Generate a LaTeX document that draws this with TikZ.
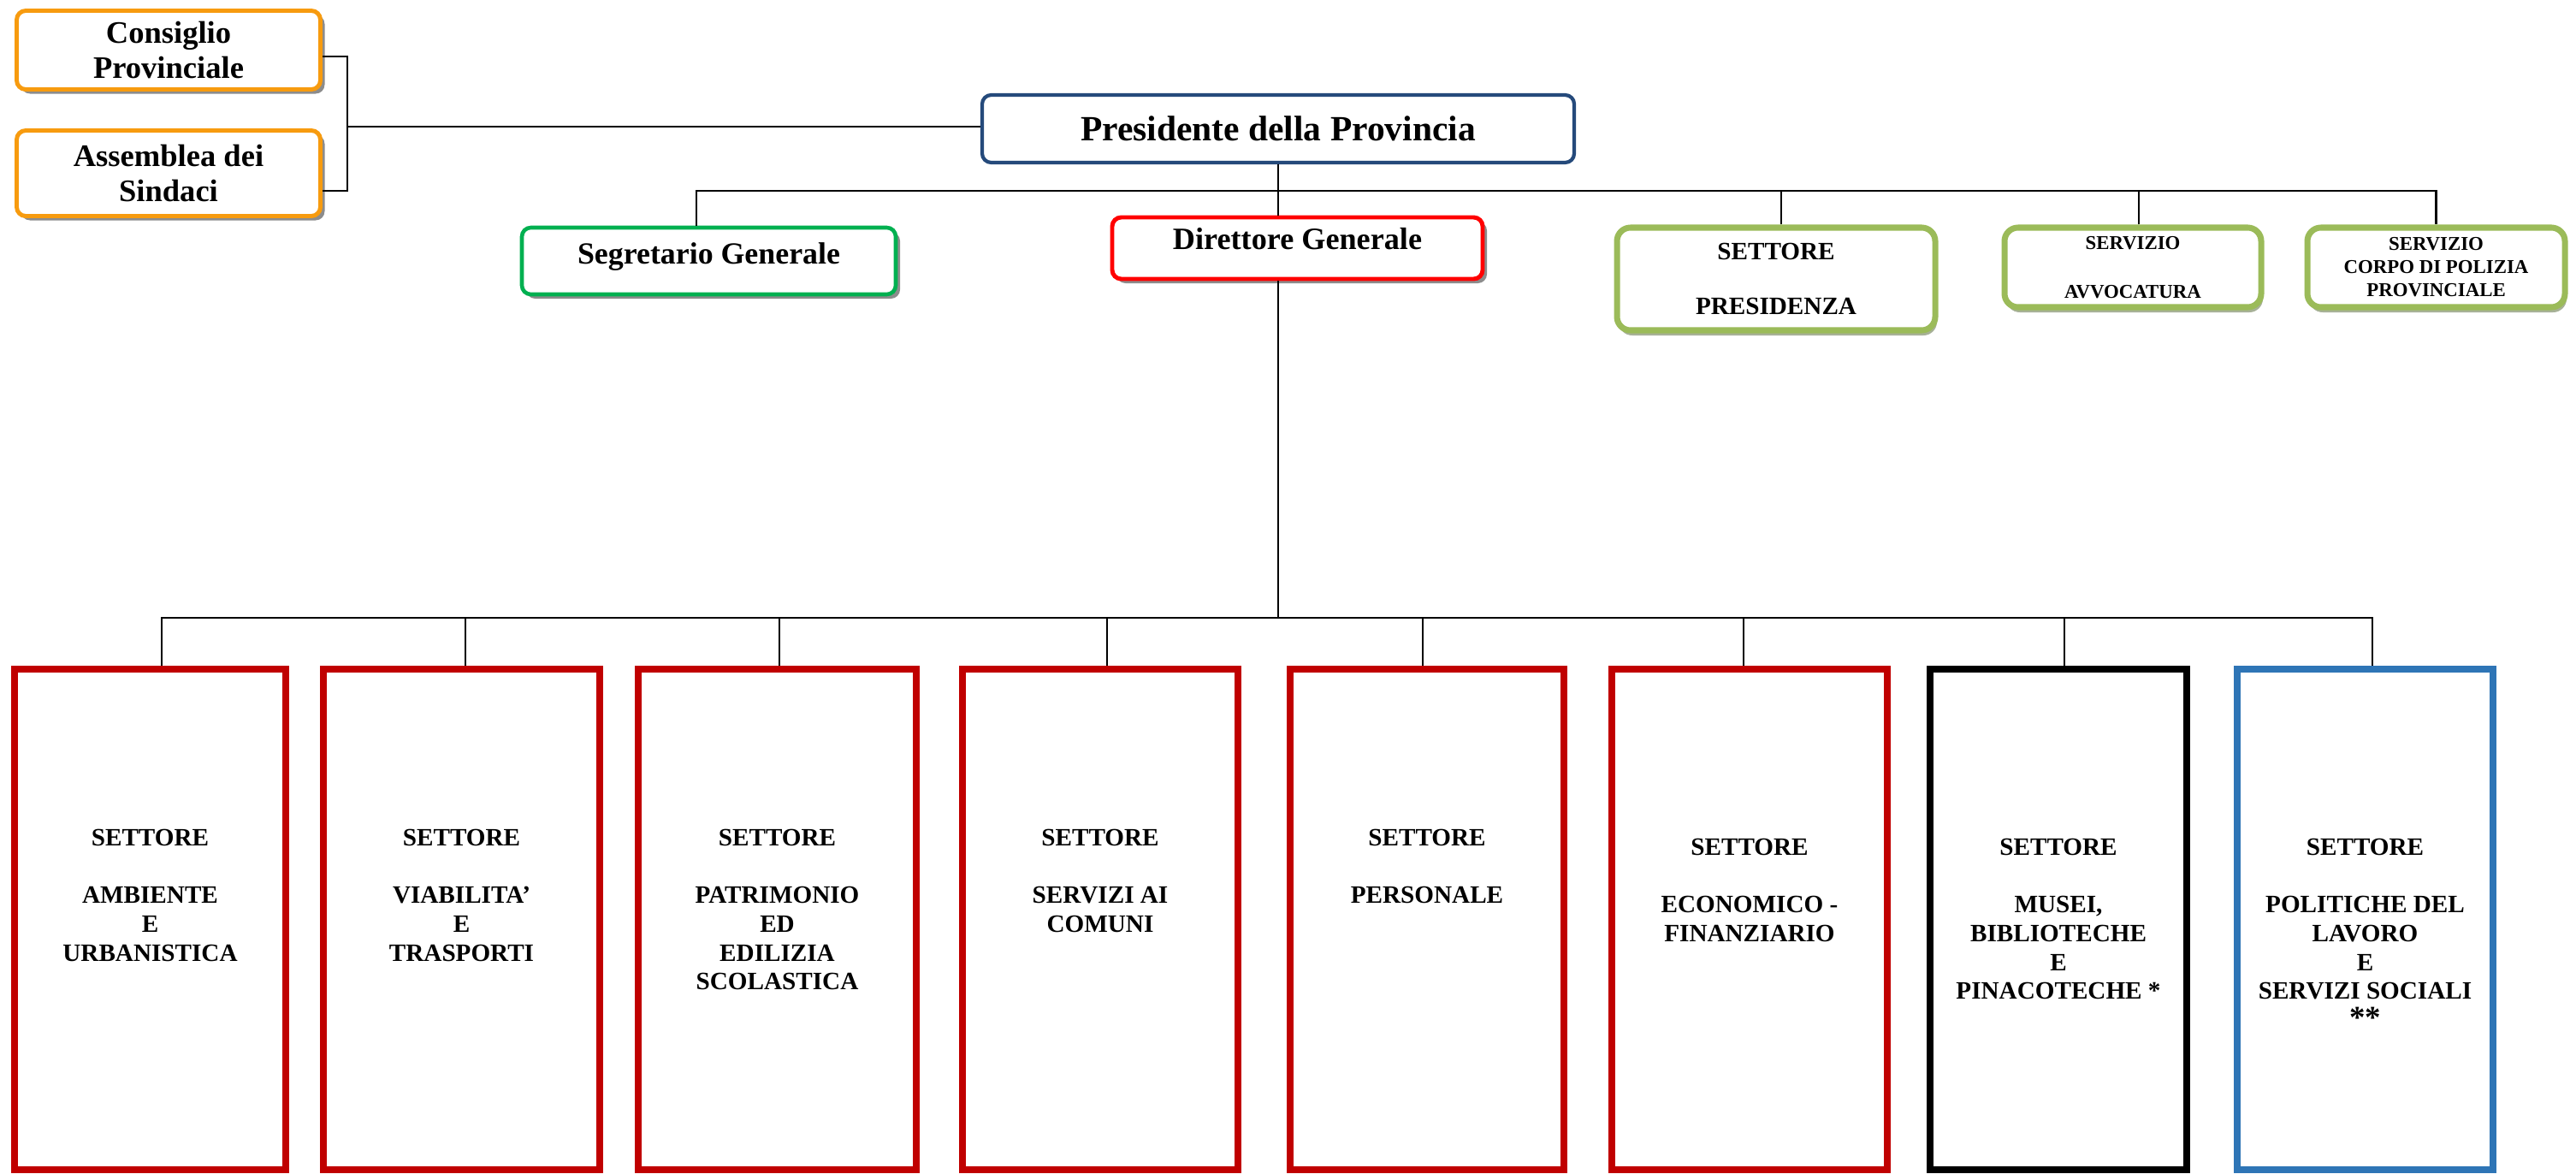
\documentclass[tikz,border=0pt]{standalone}
\usepackage{fontspec}
\setmainfont{Liberation Serif}
\usetikzlibrary{shadows}

\definecolor{orgorange}{HTML}{F79B0F}
\definecolor{orgnavy}{HTML}{254A7B}
\definecolor{orggreen}{HTML}{00B050}
\definecolor{orgolive}{HTML}{9BBB59}
\definecolor{olivegray}{HTML}{A7B197}
\definecolor{orgdarkred}{HTML}{C00000}
\definecolor{orgblue}{HTML}{2E75B6}

\begin{document}
\begin{tikzpicture}[
  topbox/.style={rounded corners=3pt,draw,fill=white,line width=1.4pt,align=center,inner sep=0pt},
  grayshadow/.style={drop shadow={shadow xshift=0.05cm,shadow yshift=-0.05cm,fill=black!45,opacity=1}},
  servbox/.style={rounded corners=4.5pt,draw=orgolive,fill=white,line width=2pt,align=center,inner sep=0pt,
    drop shadow={shadow xshift=0.02cm,shadow yshift=-0.06cm,fill=olivegray,opacity=1}},
  settbox/.style={draw,line width=2.3pt,minimum height=5.85cm,inner sep=0pt},
  settext/.style={anchor=north,align=center,inner sep=0pt,font=\fontsize{8.3}{9.6}\selectfont\bfseries},
  conn/.style={line width=0.6pt},
]
\useasboundingbox (0,0) rectangle (30.11,-13.71);

% === Organi politici ===
\node[topbox,grayshadow,draw=orgorange,minimum width=3.55cm,minimum height=0.92cm,
      font=\fontsize{10.4}{11.7}\selectfont\bfseries] (cp) at (1.97,-0.585) {Consiglio\\Provinciale};
\node[topbox,grayshadow,draw=orgorange,minimum width=3.55cm,minimum height=1.00cm,
      font=\fontsize{10.4}{11.7}\selectfont\bfseries] (as) at (1.97,-2.025) {Assemblea dei\\Sindaci};

\node[topbox,draw=orgnavy,line width=1.2pt,minimum width=6.92cm,minimum height=0.79cm,
      font=\fontsize{11.8}{13}\selectfont\bfseries] (pp) at (14.94,-1.505) {Presidente della Provincia};

% bracket to the President
\coordinate (brk) at (4.06,-1.48);
\draw[conn] ([yshift=-0.075cm]cp.east) -| (brk) |- ([yshift=-0.205cm]as.east);
\draw[conn] (brk) -- (brk -| pp.west);

% === Staff ===
\node[topbox,grayshadow,draw=orggreen,line width=1.3pt,minimum width=4.37cm,minimum height=0.78cm,
      font=\fontsize{10.2}{12}\selectfont\bfseries,text height=7pt,text depth=5.2pt] (sg) at (8.285,-3.05) {Segretario Generale};
\node[topbox,grayshadow,draw=red,line width=1.4pt,minimum width=4.33cm,minimum height=0.72cm,
      font=\fontsize{10.3}{12}\selectfont\bfseries,text height=7pt,text depth=6.2pt] (dg) at (15.165,-2.90) {Direttore Generale};

\node[servbox,minimum width=3.72cm,minimum height=1.20cm,
      font=\fontsize{8.3}{9}\selectfont\bfseries] (pr) at (20.76,-3.26) {SETTORE\\[9pt]PRESIDENZA};
\node[servbox,minimum width=3.00cm,minimum height=0.93cm,
      font=\fontsize{6.5}{8}\selectfont\bfseries] (av) at (24.93,-3.125) {SERVIZIO\\[8pt]AVVOCATURA};
\node[servbox,minimum width=3.01cm,minimum height=0.93cm,
      font=\fontsize{6.5}{7.7}\selectfont\bfseries] (pz) at (28.475,-3.125) {SERVIZIO\\CORPO DI POLIZIA\\PROVINCIALE};

% top bus
\coordinate (tbus) at (0,-2.23);
\draw[conn] (pp.south) -- (pp.south |- tbus);
\draw[conn] ([xshift=-0.145cm]sg.north) -- ([xshift=-0.145cm]sg.north |- tbus) -- (pz.north |- tbus) -- (pz.north);
\draw[conn] (pp.south |- tbus) -- (dg.north -| pp.south);
\draw[conn] ([xshift=0.06cm]pr.north) -- ([xshift=0.06cm]pr.north |- tbus);
\draw[conn] ([xshift=0.07cm]av.north) -- ([xshift=0.07cm]av.north |- tbus);

% === Settori ===
\node[settbox,draw=orgdarkred,minimum width=3.17cm] (s1) at (1.755,-10.745) {};
\node[settbox,draw=orgdarkred,minimum width=3.23cm] (s2) at (5.395,-10.745) {};
\node[settbox,draw=orgdarkred,minimum width=3.25cm] (s3) at (9.085,-10.745) {};
\node[settbox,draw=orgdarkred,minimum width=3.22cm] (s4) at (12.86,-10.745) {};
\node[settbox,draw=orgdarkred,minimum width=3.20cm] (s5) at (16.68,-10.745) {};
\node[settbox,draw=orgdarkred,minimum width=3.22cm] (s6) at (20.45,-10.745) {};
\node[settbox,draw=black,minimum width=3.00cm] (s7) at (24.06,-10.745) {};
\node[settbox,draw=orgblue,minimum width=2.99cm] (s8) at (27.645,-10.745) {};

\node[settext] (s1t) at ([yshift=-1.91cm]s1.north) {SETTORE\\[9.4pt]AMBIENTE\\E\\URBANISTICA};
\node[settext] (s2t) at ([yshift=-1.91cm]s2.north) {SETTORE\\[9.4pt]VIABILITA’\\E\\TRASPORTI};
\node[settext] (s3t) at ([yshift=-1.91cm]s3.north) {SETTORE\\[9.4pt]PATRIMONIO\\ED\\EDILIZIA\\SCOLASTICA};
\node[settext] (s4t) at ([yshift=-1.91cm]s4.north) {SETTORE\\[9.4pt]SERVIZI AI\\COMUNI};
\node[settext] (s5t) at ([yshift=-1.91cm]s5.north) {SETTORE\\[9.4pt]PERSONALE};
\node[settext] (s6t) at ([yshift=-2.02cm]s6.north) {SETTORE\\[9.4pt]ECONOMICO -\\FINANZIARIO};
\node[settext] (s7t) at ([yshift=-2.02cm]s7.north) {SETTORE\\[9.4pt]MUSEI,\\BIBLIOTECHE\\E\\PINACOTECHE *};
\node[settext] (s8t) at ([yshift=-2.02cm]s8.north) {SETTORE\\[9.4pt]POLITICHE DEL\\LAVORO\\E\\SERVIZI SOCIALI\\{\fontsize{10.5}{9.6}\selectfont **}};

% bottom bus
\coordinate (bbus) at (0,-7.22);
\draw[conn] (dg.south -| pp.south) -- (pp.south |- bbus);
\draw[conn] ([xshift=0.135cm]s1.north) -- ([xshift=0.135cm]s1.north |- bbus)
  -- ([xshift=0.085cm]s8.north |- bbus) -- ([xshift=0.085cm]s8.north);
\foreach \n/\dx in {s2/0.045,s3/0.025,s4/0.08,s5/-0.05,s6/-0.07,s7/0.07}
  \draw[conn] ([xshift=\dx cm]\n.north) -- ([xshift=\dx cm]\n.north |- bbus);

\end{tikzpicture}
\end{document}
